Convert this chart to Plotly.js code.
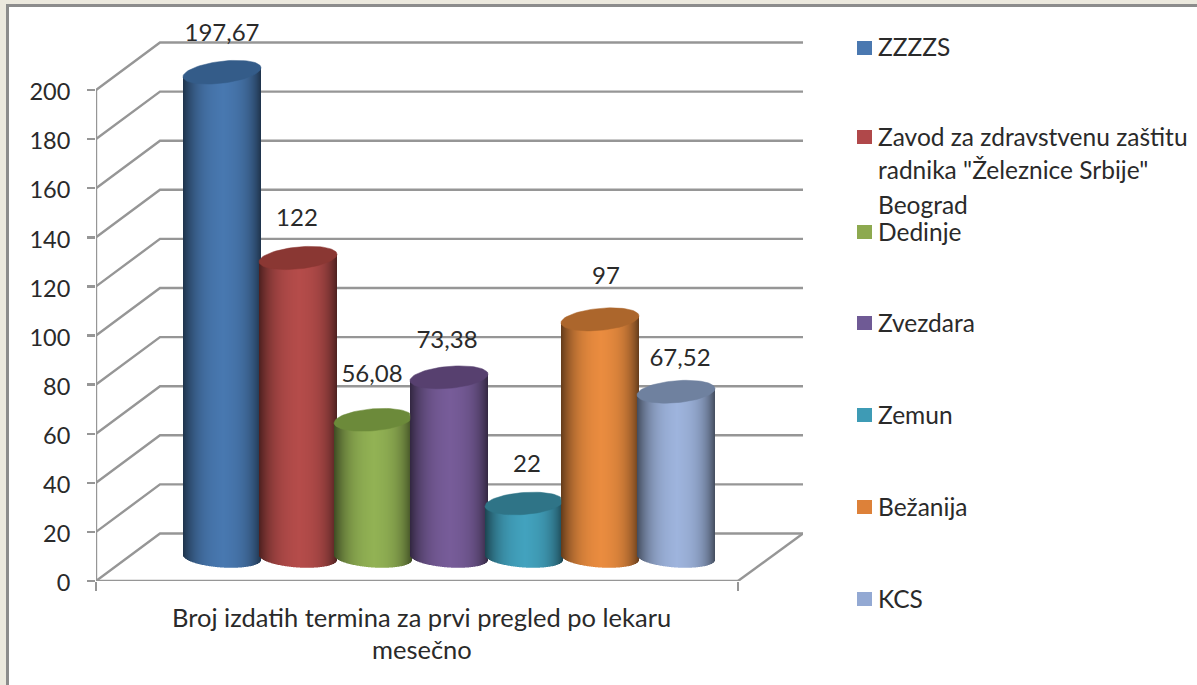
<!DOCTYPE html>
<html>
<head>
<meta charset="utf-8">
<script src="https://cdn.plot.ly/plotly-3.0.1.min.js"></script>
<style>html,body{margin:0;padding:0;background:#fff;overflow:hidden}#c{width:1197px;height:685px}</style>
</head>
<body>
<div id="c"></div>
<script>
// ---- data ----
const categories = ['ZZZZS', 'Zavod za zdravstvenu zaštitu radnika "Železnice Srbije" Beograd', 'Dedinje', 'Zvezdara', 'Zemun', 'Bežanija', 'KCS'];
const values = [197.67, 122, 56.08, 73.38, 22, 97, 67.52];
const valueLabels = ['197,67', '122', '56,08', '73,38', '22', '97', '67,52'];
const tickValues = [0, 20, 40, 60, 80, 100, 120, 140, 160, 180, 200];
const axisTitleLines = ['Broj izdatih termina za prvi pregled po lekaru', 'mesečno'];
const legendLines = [['ZZZZS'], ['Zavod za zdravstvenu zaštitu', 'radnika "Železnice Srbije"', 'Beograd'], ['Dedinje'], ['Zvezdara'], ['Zemun'], ['Bežanija'], ['KCS']];

// ---- styles ----
const sideColors = ['#4878B0', '#B54C4A', '#92B254', '#775C99', '#42A2BE', '#EA8C3F', '#9EB4DD'];
const topColors = ['#345C89', '#8A3733', '#6C8A3A', '#57406F', '#2F7487', '#AC662C', '#6F819F'];
const legendColors = ['#4A78B0', '#B0484A', '#8DA94F', '#6F5A95', '#3E9BB5', '#DD8139', '#93A9D3'];
const gridColor = '#969696', textColor = '#2A2A2A', font = 'Lato, "Open Sans", sans-serif';

// ---- plot geometry (pixels) ----
const plotL = 96, plotR = 803, plotT = 20, plotB = 581, W = 1197, H = 685;
const pxPerUnit = 2.455;
const yMax = (plotB - plotT) / pxPerUnit, xMax = plotR - plotL;
const depthX = 64, depthY = 47.5 / pxPerUnit, frontW = 642;
const centers = [126, 202, 277, 353, 428, 504, 580];
const halfW = 39, ellH = 10, topH = 11, midDepth = 23.5 / pxPerUnit;
const labelDX = [0, -1, -1, -2, 3, 6, 4];
const labelDY = [37.5, 37.5, 44, 35, 37, 41.5, 31.5];

function hex(c) { return [1, 3, 5].map(i => parseInt(c.substr(i, 2), 16)); }
function shade(c, f) { return 'rgb(' + hex(c).map(v => Math.round(v * f)).join(',') + ')'; }

const traces = [];

// back wall, floor and axis lines on the primary axes (beneath the cylinders)
const wx = [], wy = [];
tickValues.forEach(g => { wx.push(0, depthX, xMax, null); wy.push(g, g + depthY, g + depthY, null); });
wx.push(frontW, xMax, null, 0, frontW, null, 0, 0); wy.push(0, depthY, null, 0, 0, null, 0, 200);
traces.push({ type: 'scatter', mode: 'lines', x: wx, y: wy, line: { color: gridColor, width: 2.4 }, showlegend: false, hoverinfo: 'skip' });

// cylinders: each is a bar trace of one-pixel strips, so that shading and the curved base can vary
values.forEach((v, i) => {
  const xs = [], bases = [], hs = [], cols = [], ws = [];
  const tilt = 2.5 + 2 * v / 200;
  for (let s = 0; s < 2 * halfW; s++) {
    const t = (s + 0.5 - halfW) / halfW;
    const b = midDepth + (-Math.sqrt(1 - t * t) * ellH - 2.5 * t) / pxPerUnit;
    const top = v + midDepth + tilt * t / pxPerUnit;
    const a = Math.abs(t - 0.03);
    const f = 1 - 0.42 * Math.pow(a, 3) - 0.12 * a - (t > 0 ? 0.08 * Math.pow(t, 6) : 0);
    xs.push(centers[i] - halfW + s + 0.5); ws.push(1); bases.push(b); hs.push(top - b); cols.push(shade(sideColors[i], f));
  }
  traces.push({ type: 'bar', xaxis: 'x2', yaxis: 'y2', x: xs, y: hs, base: bases, width: ws, marker: { color: cols, line: { width: 0 } }, showlegend: false, hoverinfo: 'skip', name: categories[i] });
});

// top faces of the cylinders
values.forEach((v, i) => {
  const ex = [], ey = [], tilt = 2.5 + 2 * v / 200;
  const limit = (i < values.length - 1 && values[i + 1] > v) ? centers[i + 1] - halfW : Infinity;
  for (let k = 0; k <= 72; k++) {
    const th = k / 72 * 2 * Math.PI;
    ex.push(Math.min(centers[i] + halfW * Math.cos(th), limit));
    ey.push(v + midDepth + (topH * Math.sin(th) + tilt * Math.cos(th)) / pxPerUnit);
  }
  traces.push({ type: 'scatter', xaxis: 'x2', yaxis: 'y2', mode: 'lines', x: ex, y: ey, fill: 'toself', fillcolor: topColors[i], line: { color: topColors[i], width: 0.5 }, showlegend: false, hoverinfo: 'skip' });
});

// data labels
traces.push({
  type: 'scatter', xaxis: 'x2', yaxis: 'y2', mode: 'text', cliponaxis: false, showlegend: false, hoverinfo: 'skip',
  x: centers.map((c, i) => c + labelDX[i]),
  y: values.map((v, i) => v + midDepth + labelDY[i] / pxPerUnit),
  text: valueLabels, textposition: 'middle center', textfont: { family: font, size: 24, color: textColor }
});

// texts and legend
const annotations = [];
function pxText(text, x, y, anchor, size) {
  annotations.push({ text, xref: 'paper', yref: 'paper', x: (x - plotL) / (plotR - plotL), y: (plotB - y) / (plotB - plotT), xanchor: anchor, yanchor: 'middle', showarrow: false, font: { family: font, size, color: textColor } });
}
axisTitleLines.forEach((t, i) => pxText(t, 421.5, 617 + i * 32, 'center', 25.5));
const legendY = [48, 137, 232, 323, 415, 507, 599];
const shapes = [{ type: 'rect', layer: 'below', xref: 'paper', yref: 'paper',
  x0: (7.5 - plotL) / (plotR - plotL), x1: (W + 20 - plotL) / (plotR - plotL),
  y0: (plotB - H - 20) / (plotB - plotT), y1: (plotB - 5.5) / (plotB - plotT),
  line: { color: '#8C8C8C', width: 3 }, fillcolor: '#FFFFFF' }];
legendLines.forEach((lines, i) => {
  const y = legendY[i];
  shapes.push({ type: 'rect', xref: 'paper', yref: 'paper',
    x0: (857 - plotL) / (plotR - plotL), x1: (872 - plotL) / (plotR - plotL),
    y0: (plotB - y - 7) / (plotB - plotT), y1: (plotB - y + 7) / (plotB - plotT),
    line: { width: 0 }, fillcolor: legendColors[i] });
  lines.forEach((t, k) => pxText(t, 876, y - 1 + k * 34, 'left', 24.5));
});

const layout = {
  width: W, height: H, autosize: false,
  margin: { l: plotL, r: W - plotR, t: plotT, b: H - plotB, pad: 0 },
  paper_bgcolor: '#ECE9DE', plot_bgcolor: 'rgba(0,0,0,0)', barmode: 'overlay', showlegend: false, hovermode: false,
  xaxis: { range: [0, xMax], showgrid: false, zeroline: false, showline: false, fixedrange: true, showticklabels: false,
    tickmode: 'array', tickvals: [0, frontW], ticks: 'outside', ticklen: 9, tickwidth: 2.4, tickcolor: gridColor },
  yaxis: { range: [0, yMax], showgrid: false, zeroline: false, showline: false, fixedrange: true,
    tickmode: 'array', tickvals: tickValues, ticktext: tickValues.map(String), ticks: 'outside', ticklen: 8, tickwidth: 2.4, tickcolor: gridColor,
    ticklabelstandoff: 12, ticklabelshift: 2, tickfont: { family: font, size: 23.5, color: textColor } },
  xaxis2: { range: [0, xMax], overlaying: 'x', visible: false, fixedrange: true },
  yaxis2: { range: [0, yMax], overlaying: 'y', visible: false, fixedrange: true },
  annotations, shapes
};
Plotly.newPlot('c', traces, layout, { staticPlot: true, displayModeBar: false });
</script>
</body>
</html>
